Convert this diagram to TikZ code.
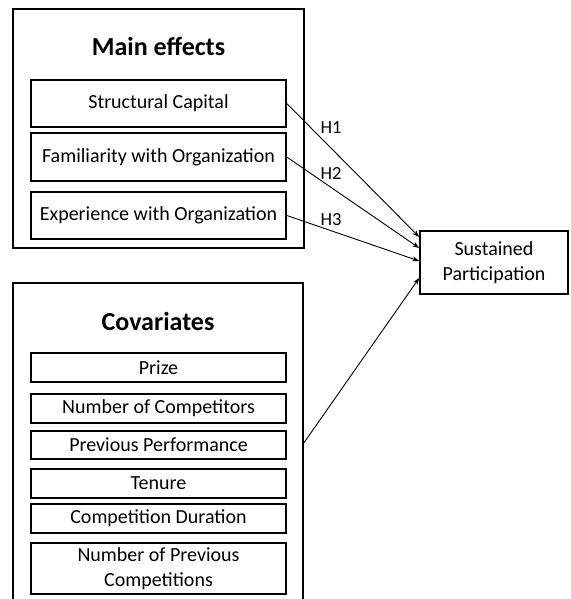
\documentclass[tikz,border=0pt]{standalone}
\usepackage{fontspec}
\setmainfont{Carlito}
\usetikzlibrary{arrows.meta}
\begin{document}
\begin{tikzpicture}[x=1pt,y=-1pt,
  outerbox/.style={draw,line width=1.6pt,inner sep=0pt},
  itembox/.style={draw,line width=1.6pt,minimum width=255pt,inner sep=0pt,align=center,font=\fontsize{20}{24.5}\selectfont},
  titletext/.style={font=\fontsize{26}{30}\selectfont\bfseries},
  link/.style={line width=0.9pt,-{Stealth[length=7pt,width=5pt]}},
  hlabel/.style={font=\fontsize{18.5}{22}\selectfont,inner sep=0pt}]
\useasboundingbox (0,0) rectangle (570,599);
\clip (0,0) rectangle (570,599);
% Main effects group
\node[outerbox,minimum width=291pt,minimum height=239pt] (main) at (158.5,128.5) {};
\node[titletext] (maint) at (158.5,46) {Main effects};
\node[itembox,minimum height=47pt] (sc) at (158.5,103.5) {Structural Capital};
\node[itembox,minimum height=48pt] (fam) at (158.5,157) {Familiarity with Organization};
\node[itembox,minimum height=47pt] (exp) at (158.5,215.5) {Experience with Organization};
% Covariates group
\node[outerbox,minimum width=290pt,minimum height=340pt] (cov) at (158,453) {};
\node[titletext] (covt) at (158,321) {Covariates};
\node[itembox,minimum height=29pt] (prize) at (158.5,367.5) {Prize};
\node[itembox,minimum height=29pt] (noc) at (158.5,408.5) {Number of Competitors};
\node[itembox,minimum height=28pt] (pp) at (158.5,445) {Previous Performance};
\node[itembox,minimum height=29pt] (ten) at (158.5,483.5) {Tenure};
\node[itembox,minimum height=29pt] (cd) at (158.5,518.5) {Competition Duration};
\node[itembox,minimum height=51pt] (npc) at (158.5,568.5) {Number of Previous\\Competitions};
% Outcome
\node[itembox,minimum width=148pt,minimum height=63pt] (sp) at (494,262.5) {Sustained\\Participation};
% Connectors
\coordinate (t1) at (sp.west |- 0,237);
\coordinate (t2) at (sp.west |- 0,248);
\coordinate (t3) at (sp.west |- 0,261);
\coordinate (t4) at (sp.west |- 0,278);
\coordinate (s4) at (cov.east |- 0,443);
\draw[link] (sc.east) -- (t1);
\draw[link] (fam.east) -- (t2);
\draw[link] (exp.east) -- (t3);
\draw[link] (s4) -- (t4);
\node[hlabel] (h1) at (331,128) {H1};
\node[hlabel] (h2) at (331,173) {H2};
\node[hlabel] (h3) at (331,220) {H3};
\end{tikzpicture}
\end{document}
